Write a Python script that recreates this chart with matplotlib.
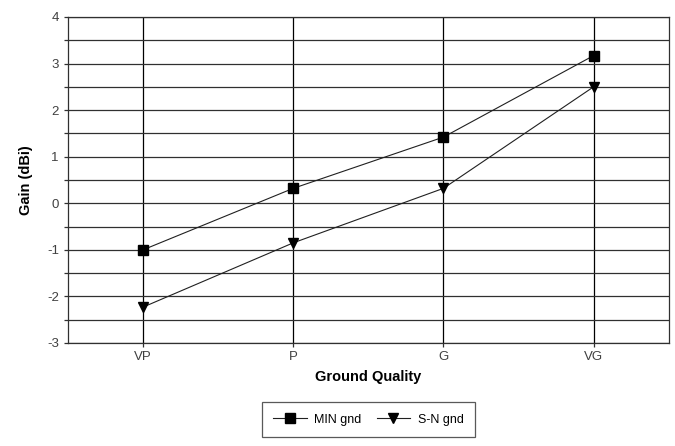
import numpy as np
import matplotlib.pyplot as plt

plt.rcParams['font.family'] = ['Liberation Sans', 'DejaVu Sans']
plt.rcParams['axes.unicode_minus'] = False

# data
categories = ['VP', 'P', 'G', 'VG']
min_gnd = [-1.0, 0.32, 1.42, 3.17]
sn_gnd = [-2.23, -0.85, 0.32, 2.5]

fig = plt.figure(figsize=(6.75, 4.46), dpi=100)
ax = fig.add_axes([0.1007, 0.231, 0.890, 0.731])

x = np.arange(len(categories))
ax.plot(x, min_gnd, color='#202020', lw=0.8, marker='s', ms=7,
        mfc='black', mec='black', label='MIN gnd')
ax.plot(x, sn_gnd, color='#202020', lw=0.8, marker='v', ms=7,
        mfc='black', mec='black', label='S-N gnd')

ax.set_xlim(-0.5, 3.5)
ax.set_ylim(-3, 4)
ax.set_xticks(x)
ax.set_xticklabels(categories)
ax.set_yticks(np.arange(-3, 5, 1))
ax.set_yticks(np.arange(-2.5, 4, 1), minor=True)

ax.grid(True, which='both', axis='y', color='#303030', lw=0.9)
ax.grid(True, which='major', axis='x', color='black', lw=0.9)
ax.set_axisbelow(True)

ax.tick_params(axis='both', which='both', length=3, width=0.9,
               colors='#303030', labelsize=9.5, labelcolor='#404040')
ax.tick_params(axis='x', pad=3)
for s in ax.spines.values():
    s.set_color('#303030')
    s.set_linewidth(0.9)

ax.set_xlabel('Ground Quality', fontsize=10.5, fontweight='bold', labelpad=5)
ax.set_ylabel('Gain (dBi)', fontsize=10.5, fontweight='bold', labelpad=10)

leg = ax.legend(loc='center', bbox_to_anchor=(0.5, -0.235), ncol=2,
                frameon=True, fancybox=False, fontsize=9,
                handlelength=2.7, columnspacing=1.2, borderpad=0.9,
                handletextpad=0.6)
leg.get_frame().set_edgecolor('#303030')
leg.get_frame().set_linewidth(0.9)

fig.savefig('out.png', dpi=100)
